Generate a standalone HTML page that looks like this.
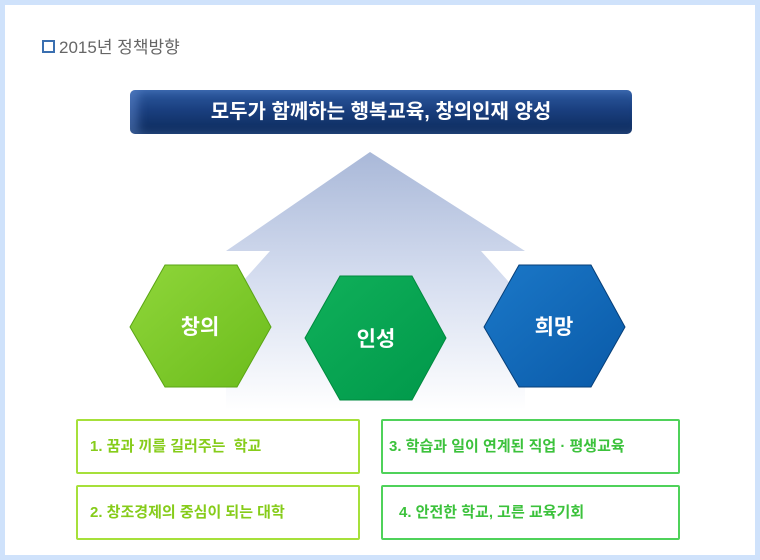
<!DOCTYPE html>
<html><head><meta charset="utf-8"><style>
body{margin:0;width:760px;height:560px;overflow:hidden;background:#fff;font-family:"Liberation Sans","Noto Sans CJK KR",sans-serif}
.frame{position:absolute;left:0;top:0;width:750px;height:550px;border:5px solid #cfe2fb}
.title{position:absolute;left:42px;top:33px;font-size:17px;color:#666}
.title i{display:inline-block;width:9px;height:9px;border:2px solid #3a6fb0;margin-right:4px;vertical-align:0px}
.banner{position:absolute;left:130px;top:90px;width:502px;height:44px;border-radius:5px;background:linear-gradient(180deg,#2d5aa0 0%,#1a3f7f 45%,#0c2a5a 100%);box-shadow:inset 8px 0 10px rgba(120,160,230,.4);color:#fff;font-size:20px;font-weight:bold;text-align:center;line-height:44px}
.box{position:absolute;width:280px;height:51px;border:2px solid;border-radius:2px;font-size:15px;font-weight:bold;line-height:51px;box-sizing:content-box}
.l{border-color:#a6e03a;color:#86cc1a}
.r{border-color:#4fd25a;color:#3cc23c}
</style></head><body>
<div class="frame"></div>
<div class="title"><i></i>2015년 정책방향</div>
<div class="banner">모두가 함께하는 행복교육, 창의인재 양성</div>
<svg width="760" height="560" style="position:absolute;left:0;top:0">
<defs>
<linearGradient id="ar" x1="0" y1="0" x2="0" y2="1"><stop offset="0" stop-color="#a9b8d8"/><stop offset="0.5" stop-color="#d6def0"/><stop offset="1" stop-color="#ffffff"/></linearGradient>
<linearGradient id="g1" x1="0" y1="0" x2="1" y2="1"><stop offset="0" stop-color="#8fd63a"/><stop offset="1" stop-color="#6cbc1c"/></linearGradient>
<linearGradient id="g2" x1="0" y1="0" x2="1" y2="1"><stop offset="0" stop-color="#10b05a"/><stop offset="1" stop-color="#00984a"/></linearGradient>
<linearGradient id="g3" x1="0" y1="0" x2="1" y2="1"><stop offset="0" stop-color="#1b78c8"/><stop offset="1" stop-color="#0a5aa8"/></linearGradient>
</defs>
<polygon points="370,152 525,251 481,251 525,300 525,410 226,410 226,300 270,251 226,251" fill="url(#ar)"/>
<polygon points="130,327 165,265 237,265 271,327 237,387 165,387" fill="url(#g1)" stroke="#5aa514" stroke-width="1"/>
<polygon points="305,338 340,276 412,276 446,338 412,400 340,400" fill="url(#g2)" stroke="#008a3e" stroke-width="1"/>
<polygon points="484,327 519,265 591,265 625,327 591,387 519,387" fill="url(#g3)" stroke="#073f78" stroke-width="1"/>
<g fill="#fff" font-weight="bold" font-size="21" text-anchor="middle" font-family="Liberation Sans,Noto Sans CJK KR,sans-serif">
<text x="200" y="334">창의</text><text x="376" y="346">인성</text><text x="554" y="334">희망</text>
</g>
</svg>
<div class="box l" style="left:76px;top:419px;"><span style="padding-left:12px">1. 꿈과 끼를 길러주는&nbsp; 학교</span></div>
<div class="box l" style="left:76px;top:485px;"><span style="padding-left:12px">2. 창조경제의 중심이 되는 대학</span></div>
<div class="box r" style="left:381px;top:419px;width:295px"><span style="padding-left:6px">3. 학습과 일이 연계된 직업 · 평생교육</span></div>
<div class="box r" style="left:381px;top:485px;width:295px"><span style="padding-left:16px">4. 안전한 학교, 고른 교육기회</span></div>
</body></html>
